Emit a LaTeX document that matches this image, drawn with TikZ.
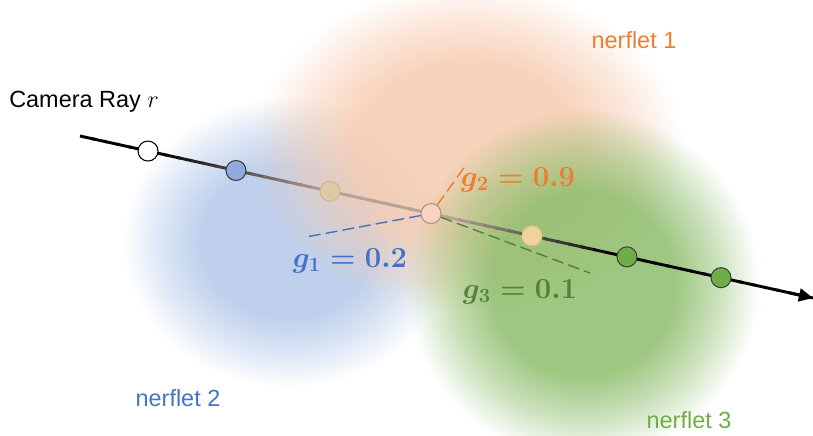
\documentclass[tikz,border=0pt]{standalone}
\usepackage[no-math]{fontspec}
\setmainfont{Liberation Sans}
\usetikzlibrary{arrows.meta,fadings,calc}
\definecolor{NerfOrange}{HTML}{ED7D31}
\definecolor{NerfBlue}{HTML}{4472C4}
\definecolor{NerfGreen}{HTML}{70AD47}
\definecolor{NerfDarkGreen}{HTML}{548235}
\definecolor{BlobOrange}{HTML}{F7CBAF}
\definecolor{BlobBlue}{HTML}{B7CBEA}
\definecolor{BlobGreen}{HTML}{8DBD6B}
\definecolor{SampleBlue}{HTML}{8FAADC}
\definecolor{RayMid}{HTML}{D6C0B2}
\pgfdeclareradialshading{nerfletglow}{\pgfpointorigin}{color(0bp)=(white); color(13bp)=(white); color(19bp)=(black!45); color(25bp)=(black); color(50bp)=(black)}
\pgfdeclarefading{nerfletfade}{\pgfuseshading{nerfletglow}}

\begin{document}
\begin{tikzpicture}[x=0.03cm,y=-0.03cm,
  lbl/.style={font=\fontsize{20}{24}\selectfont},
  gval/.style={font=\fontsize{24}{28}\selectfont\boldmath},
  blob/.style={path fading=nerfletfade},
  sample/.style={circle,draw=black!75,line width=0.9pt,minimum size=0.6cm,inner sep=0pt},
  ray/.style={line width=2.5pt},
  weight/.style={line width=1.2pt,dash pattern=on 10pt off 4.5pt}]
  \useasboundingbox (0,0) rectangle (813,435);
  \coordinate (raystart) at (80,136);
  \coordinate (rayend) at (813,298);
  % nerflets
  \fill[BlobBlue,fill opacity=.9,blob] (288,242) ellipse [x radius=165,y radius=145];
  \fill[BlobOrange,fill opacity=.85,blob] (468,148) ellipse [x radius=215,y radius=165];
  \fill[BlobGreen,fill opacity=.85,blob] (583,284) ellipse [x radius=176,y radius=175];
  % ray, fading where it crosses the nerflets
  \foreach \k in {0,...,59}{
    \pgfmathsetmacro{\pa}{\k/60}
    \pgfmathsetmacro{\pb}{min(1,(\k+1.2)/60)}
    \pgfmathsetmacro{\dk}{max(15,min(100,max(100-(\pa-0.1)*370,15+(\pa-0.5)*386)))}
    \draw[ray,black!\dk!RayMid] ($(raystart)!\pa!(rayend)$) -- ($(raystart)!\pb!(rayend)$);
  }
  \draw[ray,-{Triangle[length=12pt,width=11pt]}] ($(raystart)!.97!(rayend)$) -- (rayend);
  % samples along the ray
  \path (raystart) -- (rayend)
    node[sample,fill=white,draw=black,pos=.0928] (p1) {}
    node[sample,fill=SampleBlue,pos=.2128] (p2) {}
    node[sample,fill={rgb,255:red,221;green,201;blue,163},draw={rgb,255:red,205;green,184;blue,146},pos=.3411] (p3) {}
    node[sample,fill={rgb,255:red,249;green,212;blue,192},draw={rgb,255:red,168;green,148;blue,136},pos=.4789] (p4) {}
    node[sample,fill={rgb,255:red,240;green,210;blue,154},draw={rgb,255:red,222;green,192;blue,146},pos=.6166] (p5) {}
    node[sample,fill=NerfGreen,pos=.7462] (p6) {}
    node[sample,fill=NerfGreen,pos=.8745] (p7) {};
  \coordinate (w1) at (306,237);
  \coordinate (w2) at (466,165);
  \coordinate (w3) at (590,273);
  \draw[weight,NerfBlue] (p4) -- (w1);
  \draw[weight,NerfOrange] (p4) -- (w2);
  \draw[weight,NerfDarkGreen] (p4) -- (w3);
  % labels
  \node[lbl] (raylabel) at (84,102) {Camera Ray $r$};
  \node[lbl,text=NerfOrange] (n1label) at (634,40) {nerflet 1};
  \node[lbl,text=NerfBlue] (n2label) at (178,398) {nerflet 2};
  \node[lbl,text=NerfGreen] (n3label) at (689,420) {nerflet 3};
  \node[gval,text=NerfOrange] (g2) at (518,180) {$g_2=0.9$};
  \node[gval,text=NerfBlue] (g1) at (350,261) {$g_1=0.2$};
  \node[gval,text=NerfDarkGreen] (g3) at (520,292) {$g_3=0.1$};
\end{tikzpicture}
\end{document}
